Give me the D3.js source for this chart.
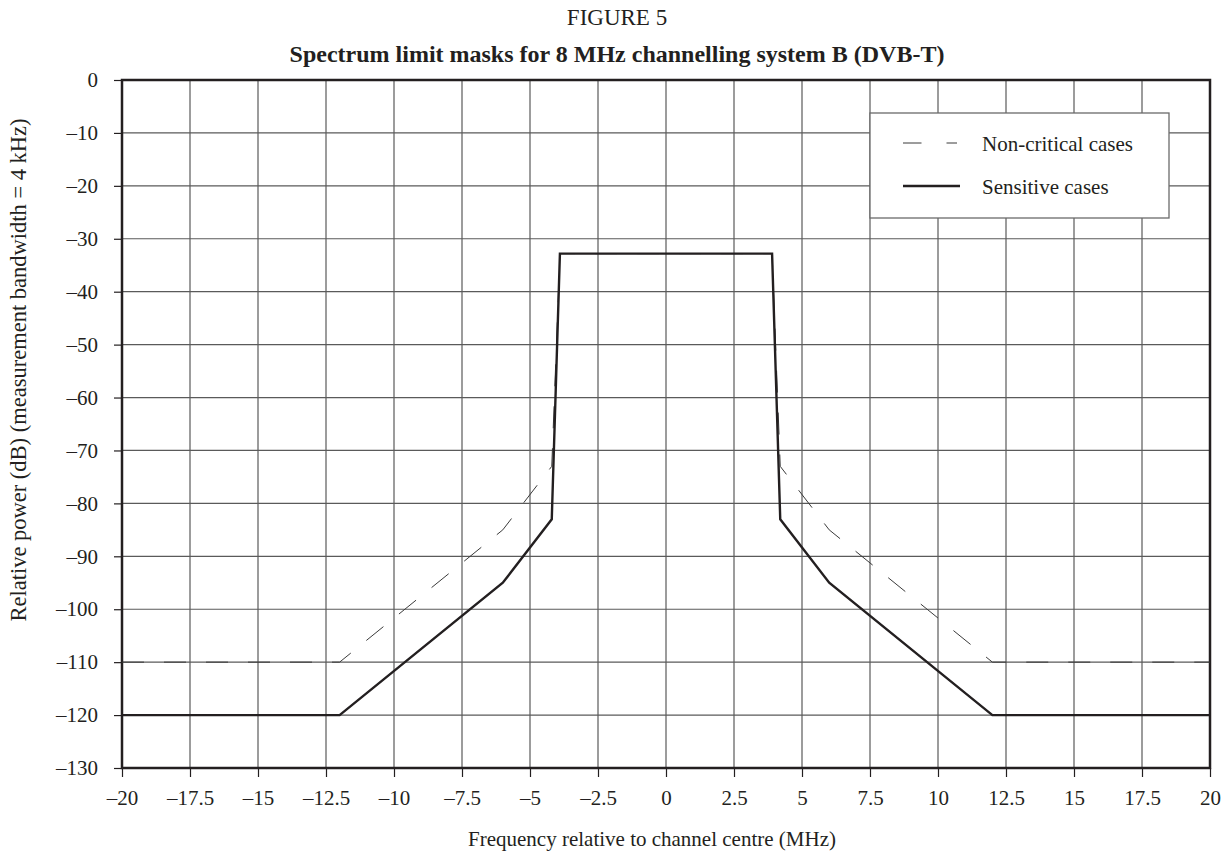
<!DOCTYPE html>
<html>
<head>
<meta charset="utf-8">
<script src="https://cdn.jsdelivr.net/npm/d3@7"></script>
<style>
  html, body { margin: 0; padding: 0; background: #fff; }
  svg { display: block; }
  text { font-family: "Liberation Serif", "Times New Roman", serif; fill: #231f20; }
</style>
</head>
<body>
<svg id="chart" width="1231" height="857"></svg>
<script>
// ---- data ----
const xTicks = [-20, -17.5, -15, -12.5, -10, -7.5, -5, -2.5, 0, 2.5, 5, 7.5, 10, 12.5, 15, 17.5, 20];
const yTicks = [0, -10, -20, -30, -40, -50, -60, -70, -80, -90, -100, -110, -120, -130];
const sensitiveFreq  = [-20, -12, -6, -4.2, -3.9, 3.9, 4.2, 6, 12, 20];
const sensitivePower = [-120, -120, -95, -83, -32.8, -32.8, -83, -95, -120, -120];
const nonCriticalFreq  = [-20, -12, -6, -4.2, -3.9, 3.9, 4.2, 6, 12, 20];
const nonCriticalPower = [-110, -110, -85, -73, -32.8, -32.8, -73, -85, -110, -110];
const legendLabels = ["Non-critical cases", "Sensitive cases"];
const figureLabel = "FIGURE 5";
const titleText = "Spectrum limit masks for 8 MHz channelling system B (DVB-T)";
const xTitle = "Frequency relative to channel centre (MHz)";
const yTitle = "Relative power (dB) (measurement bandwidth = 4 kHz)";

// ---- layout ----
const svg = d3.select("#chart");
const x = d3.scaleLinear().domain([-20, 20]).range([122, 1210]);
const y = d3.scaleLinear().domain([-130, 0]).range([768, 80]);
const ink = "#231f20";
const fmt = d => (d < 0 ? "\u2013" + Math.abs(d) : String(d));

// grid
const grid = svg.append("g");
grid.selectAll("line.v").data(xTicks.slice(1, -1)).join("line")
  .attr("x1", d => x(d)).attr("x2", d => x(d))
  .attr("y1", y(0)).attr("y2", y(-130))
  .attr("stroke", "#5a5a5a").attr("stroke-width", 1.2);
grid.selectAll("line.h").data(yTicks.slice(1, -1)).join("line")
  .attr("x1", x(-20)).attr("x2", x(20))
  .attr("y1", d => y(d)).attr("y2", d => y(d))
  .attr("stroke", "#5a5a5a").attr("stroke-width", 1.2);

// axes
const yAxis = svg.append("g").attr("transform", `translate(${x(-20)},0)`)
  .call(d3.axisLeft(y).tickValues(yTicks).tickSize(8).tickPadding(16).tickFormat(fmt));
const xAxis = svg.append("g").attr("transform", `translate(0,${y(-130)})`)
  .call(d3.axisBottom(x).tickValues(xTicks).tickSize(9).tickPadding(13).tickFormat(fmt));
[xAxis, yAxis].forEach(a => {
  a.select(".domain").remove();
  a.selectAll(".tick line").attr("stroke", ink).attr("stroke-width", 1.2);
  a.selectAll(".tick text").attr("fill", ink)
    .style("font-family", '"Liberation Serif", "Times New Roman", serif')
    .style("font-size", "21px");
});

// frame
svg.append("rect")
  .attr("x", x(-20)).attr("y", y(0))
  .attr("width", x(20) - x(-20)).attr("height", y(-130) - y(0))
  .attr("fill", "none").attr("stroke", ink).attr("stroke-width", 2.5);

// series
const line = d3.line().x(d => x(d[0])).y(d => y(d[1]));
const nonCritical = nonCriticalFreq.map((f, i) => [f, nonCriticalPower[i]]);
const sensitive = sensitiveFreq.map((f, i) => [f, sensitivePower[i]]);
svg.append("path").datum(nonCritical).attr("d", line)
  .attr("fill", "none").attr("stroke", "#3a3a3a").attr("stroke-width", 1)
  .attr("stroke-dasharray", "22,20");
svg.append("path").datum(sensitive).attr("d", line)
  .attr("fill", "none").attr("stroke", ink).attr("stroke-width", 2.4)
  .attr("stroke-linejoin", "miter");

// legend
const lg = svg.append("g");
lg.append("rect").attr("x", 870).attr("y", 113).attr("width", 299).attr("height", 105)
  .attr("fill", "#fff").attr("stroke", "#6a6a6a").attr("stroke-width", 1.3);
lg.append("line").attr("x1", 903).attr("x2", 957).attr("y1", 143).attr("y2", 143)
  .attr("stroke", "#3a3a3a").attr("stroke-width", 1).attr("stroke-dasharray", "18.5,25,10.5,100");
lg.append("line").attr("x1", 903).attr("x2", 960).attr("y1", 186).attr("y2", 186)
  .attr("stroke", ink).attr("stroke-width", 2.4);
lg.selectAll("text").data(legendLabels).join("text")
  .attr("x", 982).attr("y", (d, i) => 151 + i * 43)
  .style("font-size", "21px").text(d => d);

// titles
svg.append("text").attr("x", 617).attr("y", 25).attr("text-anchor", "middle")
  .style("font-size", "23px").text(figureLabel);
svg.append("text").attr("x", 617).attr("y", 62).attr("text-anchor", "middle")
  .style("font-size", "24px").style("font-weight", "bold").text(titleText);
svg.append("text").attr("x", 652).attr("y", 846).attr("text-anchor", "middle")
  .style("font-size", "21px").text(xTitle);
svg.append("text").attr("transform", "translate(26,370) rotate(-90)")
  .attr("text-anchor", "middle").style("font-size", "22.5px").text(yTitle);
</script>
</body>
</html>
